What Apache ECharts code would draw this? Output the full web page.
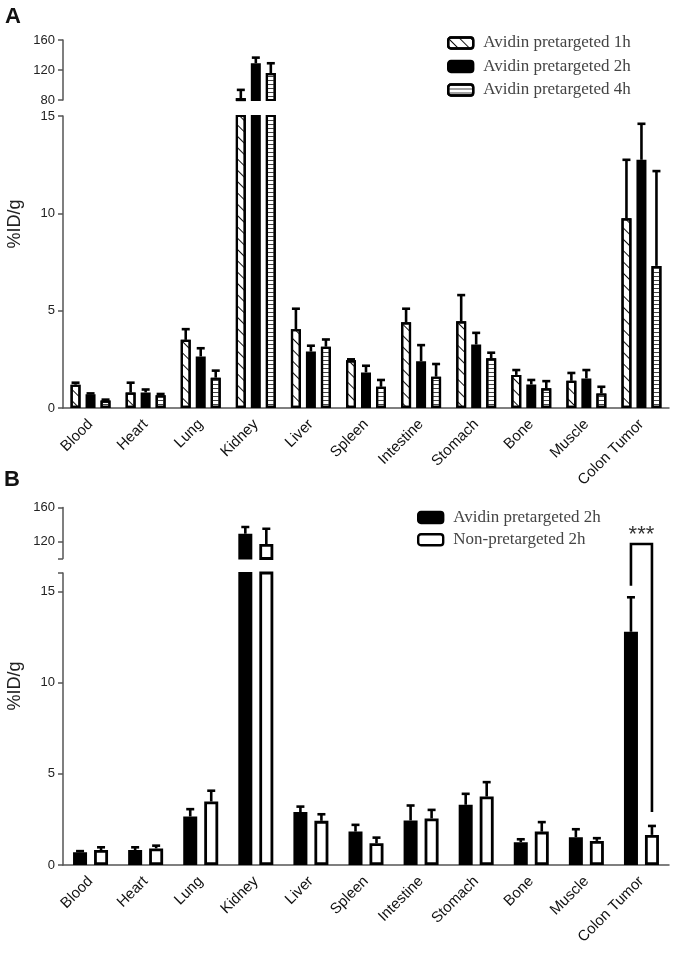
<!DOCTYPE html>
<html>
<head>
<meta charset="utf-8">
<script src="https://cdn.jsdelivr.net/npm/echarts@6/dist/echarts.min.js"></script>
<style>
  html, body { margin: 0; padding: 0; background: #fff; }
  #chart { width: 675px; height: 953px; }
</style>
</head>
<body>
<div id="chart"></div>
<script>
var categories = ['Blood', 'Heart', 'Lung', 'Kidney', 'Liver', 'Spleen', 'Intestine', 'Stomach', 'Bone', 'Muscle', 'Colon Tumor'];

// panel A
var a1h    = [1.2, 0.8, 3.5, 82.5, 4.05, 2.45, 4.4, 4.45, 1.7, 1.4, 9.75];
var a1hErr = [0.1, 0.5, 0.55, 11, 1.05, 0.05, 0.7, 1.35, 0.25, 0.4, 3.0];
var a2h    = [0.7, 0.8, 2.65, 129, 2.9, 1.83, 2.4, 3.26, 1.21, 1.52, 12.75];
var a2hErr = [0.05, 0.15, 0.42, 7.5, 0.3, 0.34, 0.83, 0.6, 0.23, 0.43, 1.85];
var a4h    = [0.38, 0.65, 1.56, 116, 3.15, 1.09, 1.61, 2.55, 1.01, 0.75, 7.3];
var a4hErr = [0.05, 0.07, 0.36, 13, 0.37, 0.35, 0.65, 0.29, 0.37, 0.34, 4.87];

// panel B
var bAvidin    = [0.7, 0.82, 2.66, 129, 2.9, 1.83, 2.44, 3.3, 1.25, 1.52, 12.78];
var bAvidinErr = [0.06, 0.15, 0.4, 8, 0.3, 0.37, 0.82, 0.6, 0.16, 0.44, 1.89];
var bNon       = [0.82, 0.91, 3.48, 117, 2.42, 1.19, 2.55, 3.75, 1.83, 1.32, 1.65];
var bNonErr    = [0.15, 0.15, 0.59, 18, 0.36, 0.31, 0.47, 0.79, 0.52, 0.15, 0.49];

// broken axis segments and tick labels
var aUpper = [80, 160], aUpperTicks = [80, 120, 160];
var aLower = [0, 15],   aLowerTicks = [0, 5, 10, 15];
var bUpper = [100, 160], bUpperTicks = [120, 160];
var bLower = [0, 16],   bLowerTicks = [0, 5, 10, 15];

// significance bracket, colon tumor (upper value for the top, lower values for the legs)
var sigLabel = '***';
var sigTop = 117, sigLeftEnd = 15.3, sigRightEnd = 2.9;

var namesA = ['Avidin pretargeted 1h', 'Avidin pretargeted 2h', 'Avidin pretargeted 4h'];
var namesB = ['Avidin pretargeted 2h', 'Non-pretargeted 2h'];

var axisCol = '#555';
var sans = 'Liberation Sans, Arial, sans-serif';
var serif = 'Liberation Serif, Times New Roman, serif';

var styles = {
	hatch: { color: '#fff', borderColor: '#000', borderWidth: 2.2,
		decal: { symbol: 'rect', symbolSize: 1, dashArrayX: [1, 0], dashArrayY: [1, 7], rotation: Math.PI / 4, color: '#111' } },
	solid: { color: '#000', borderColor: '#000', borderWidth: 2 },
	stripe: { color: '#fff', borderColor: '#000', borderWidth: 2.2,
		decal: { symbol: 'rect', symbolSize: 1, dashArrayX: [1, 0], dashArrayY: [1, 3], rotation: 0, color: '#444' } },
	open: { color: '#fff', borderColor: '#000', borderWidth: 2.8 }
};

function grid(top, height) {
	return { left: 63, right: 6, top: top, height: height };
}

function xAxis(gridIndex, show) {
	return {
		type: 'category', gridIndex: gridIndex, data: categories, show: show,
		axisLine: { lineStyle: { color: axisCol, width: 1.5 } },
		axisTick: { alignWithLabel: true, interval: 0, length: 5, lineStyle: { color: axisCol, width: 1.5 } },
		axisLabel: { interval: 0, rotate: 45, margin: 14, fontSize: 15, fontFamily: sans, color: '#111' }
	};
}

function yAxis(gridIndex, range, labels, ticks) {
	return {
		type: 'value', gridIndex: gridIndex, min: range[0], max: range[1],
		splitLine: { show: false },
		axisLine: { show: true, lineStyle: { color: axisCol, width: 1.5 } },
		axisTick: { show: true, length: 5, customValues: ticks, lineStyle: { color: axisCol, width: 1.5 } },
		axisLabel: { customValues: labels, margin: 8, fontSize: 13, fontFamily: sans, color: '#222' }
	};
}

function errSeries(gridIndex, values, errs, offset, range) {
	var data = [];
	values.forEach(function (v, i) {
		if (v > range[0] && v + errs[i] <= range[1]) data.push([i, v, errs[i]]);
	});
	return {
		type: 'custom', name: 'err', xAxisIndex: gridIndex, yAxisIndex: gridIndex,
		data: data, z: 5, clip: true,
		encode: { x: 0, y: 1 },
		renderItem: function (params, api) {
			var p0 = api.coord([api.value(0), api.value(1)]);
			var p1 = api.coord([api.value(0), api.value(1) + api.value(2)]);
			var x = p0[0] + offset;
			var st = { stroke: '#000', lineWidth: 2.6 };
			return { type: 'group', children: [
				{ type: 'line', shape: { x1: x, y1: p0[1], x2: x, y2: p1[1] }, style: st },
				{ type: 'line', shape: { x1: x - 4, y1: p1[1], x2: x + 4, y2: p1[1] }, style: st }
			] };
		}
	};
}

// one panel = upper grid + lower grid, bars on both, error bars where they fit
function panelSeries(upperIdx, lowerIdx, groups, upper, lower, barWidth, spacing) {
	var out = [];
	var n = groups.length;
	groups.forEach(function (g, k) {
		var offset = spacing * (k - (n - 1) / 2);
		var upData = g.values.map(function (v) { return v > upper[0] ? v : '-'; });
		[[lowerIdx, g.values], [upperIdx, upData]].forEach(function (p) {
			out.push({
				type: 'bar', name: g.name, xAxisIndex: p[0], yAxisIndex: p[0],
				data: p[1], barWidth: barWidth, barGap: ((spacing - barWidth) / barWidth * 100) + '%',
				itemStyle: g.style, clip: true
			});
		});
		out.push(errSeries(lowerIdx, g.values, g.errs, offset, lower));
		out.push(errSeries(upperIdx, g.values, g.errs, offset, upper));
	});
	return out;
}

var groupsA = [
	{ name: namesA[0], values: a1h, errs: a1hErr, style: styles.hatch },
	{ name: namesA[1], values: a2h, errs: a2hErr, style: styles.solid },
	{ name: namesA[2], values: a4h, errs: a4hErr, style: styles.stripe }
];
var groupsB = [
	{ name: namesB[0], values: bAvidin, errs: bAvidinErr, style: styles.solid },
	{ name: namesB[1], values: bNon, errs: bNonErr, style: styles.open }
];

var legendBase = {
	orient: 'vertical', itemWidth: 25, itemHeight: 11, icon: 'roundRect',
	selectedMode: false, padding: 0,
	itemStyle: { borderColor: '#000', borderWidth: 2.4 },
	textStyle: { fontFamily: serif, fontSize: 17, color: '#444', lineHeight: 18, padding: [0, 0, 0, 5] }
};

var chart = echarts.init(document.getElementById('chart'), null, { renderer: 'canvas' });

var option = {
	animation: false,
	backgroundColor: '#fff',
	grid: [grid(40, 60), grid(116, 292), grid(507.5, 51), grid(573, 292)],
	xAxis: [xAxis(0, false), xAxis(1, true), xAxis(2, false), xAxis(3, true)],
	yAxis: [
		yAxis(0, aUpper, aUpperTicks, aUpperTicks),
		yAxis(1, aLower, aLowerTicks, aLowerTicks),
		yAxis(2, bUpper, bUpperTicks, [bUpper[0]].concat(bUpperTicks)),
		yAxis(3, bLower, bLowerTicks, bLowerTicks.concat([bLower[1]]))
	],
	legend: [
		Object.assign({}, legendBase, { data: namesA, left: 447, top: 34, itemGap: 5.5 }),
		Object.assign({}, legendBase, { data: namesB, left: 417, top: 508.5, itemGap: 4.3 })
	],
	series: panelSeries(0, 1, groupsA, aUpper, aLower, 10, 15)
		.concat(panelSeries(2, 3, groupsB, bUpper, bLower, 14, 21)),
	graphic: [
		{ type: 'text', left: 5, top: 6, style: { text: 'A', fontSize: 22, fontWeight: 'bold', fontFamily: sans, fill: '#111' } },
		{ type: 'text', left: 4, top: 469, style: { text: 'B', fontSize: 22, fontWeight: 'bold', fontFamily: sans, fill: '#111' } },
		{ type: 'text', x: 15, y: 224, rotation: Math.PI / 2,
			style: { text: '%ID/g', fontSize: 18, fontFamily: sans, fill: '#222', align: 'center', verticalAlign: 'middle' } },
		{ type: 'text', x: 15, y: 686, rotation: Math.PI / 2,
			style: { text: '%ID/g', fontSize: 18, fontFamily: sans, fill: '#222', align: 'center', verticalAlign: 'middle' } }
	]
};
chart.setOption(option);

// significance bracket over colon tumor in panel B
var ci = categories.length - 1;
var xc = chart.convertToPixel({ gridIndex: 3 }, [ci, 0])[0];
var xL = xc - 10.5, xR = xc + 10.5;
var yTop = chart.convertToPixel({ gridIndex: 2 }, [ci, sigTop])[1];
var yL = chart.convertToPixel({ gridIndex: 3 }, [ci, sigLeftEnd])[1];
var yR = chart.convertToPixel({ gridIndex: 3 }, [ci, sigRightEnd])[1];
option.graphic.push(
	{ type: 'polyline', shape: { points: [[xL, yL], [xL, yTop], [xR, yTop], [xR, yR]] },
		style: { stroke: '#000', lineWidth: 2.6, fill: null }, z: 10 },
	{ type: 'text', x: (xL + xR) / 2, y: yTop - 20,
		style: { text: sigLabel, fontSize: 22, fontFamily: sans, fill: '#333', align: 'center', verticalAlign: 'top' }, z: 10 }
);
chart.setOption({ graphic: option.graphic });
</script>
</body>
</html>
